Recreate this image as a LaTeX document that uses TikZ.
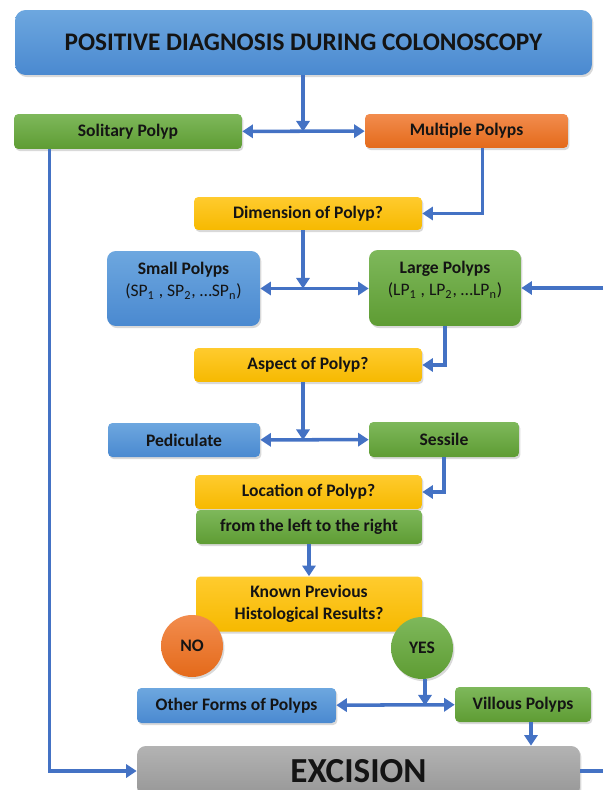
\documentclass[tikz,border=0pt]{standalone}
\usepackage{fontspec}
\setmainfont{Carlito}
\usetikzlibrary{arrows.meta,shadows,calc}

\definecolor{blueT}{HTML}{6DA7DF}
\definecolor{blueB}{HTML}{4A89D0}
\definecolor{greenT}{HTML}{7EB85B}
\definecolor{greenB}{HTML}{5E9C33}
\definecolor{orangeT}{HTML}{F28C4E}
\definecolor{orangeB}{HTML}{E46A1A}
\definecolor{yellowT}{HTML}{FFCB2E}
\definecolor{yellowB}{HTML}{F6B900}
\definecolor{grayT}{HTML}{B3B3B3}
\definecolor{grayB}{HTML}{979797}
\definecolor{linkblue}{HTML}{4472C4}

\begin{document}
\begin{tikzpicture}[x=0.02cm, y=-0.02cm,
		>={Triangle[length=6pt,width=7.5pt]},
		box/.style={rounded corners=2.5pt, inner sep=0pt, align=center, text=black!92,
			font=\fontsize{10}{12.5}\selectfont\bfseries,
			drop shadow={shadow xshift=0.8pt, shadow yshift=-1.2pt, opacity=0.3}},
		bluebox/.style={box, top color=blueT, bottom color=blueB},
		greenbox/.style={box, top color=greenT, bottom color=greenB},
		orangebox/.style={box, top color=orangeT, bottom color=orangeB},
		yellowbox/.style={box, top color=yellowT, bottom color=yellowB},
		graybox/.style={box, top color=grayT, bottom color=grayB},
		answer/.style={circle, minimum size=1.24cm},
		link/.style={draw=linkblue, line width=2pt}
	]

	\useasboundingbox (0,0) rectangle (603,790);

	\node[bluebox, minimum width=11.54cm, minimum height=1.3cm, rounded corners=6pt,
		font=\fontsize{14.4}{16}\selectfont\bfseries] (title) at (303.5,42.5)
		{POSITIVE DIAGNOSIS DURING COLONOSCOPY};

	\node[greenbox, minimum width=4.56cm, minimum height=0.7cm] (solitary) at (128,131.5) {Solitary Polyp};
	\node[orangebox, minimum width=4.06cm, minimum height=0.68cm] (multiple) at (466.5,131) {Multiple Polyps};

	\node[yellowbox, minimum width=4.56cm, minimum height=0.66cm] (dimension) at (308,213.5) {Dimension of Polyp?};

	\node[bluebox, minimum width=3.06cm, minimum height=1.5cm, rounded corners=5pt, text depth=10pt] (small) at (183.5,288.5)
		{Small Polyps\\ \mdseries (SP\textsubscript{1} , SP\textsubscript{2}, \dots SP\textsubscript{n})};
	\node[greenbox, minimum width=3.04cm, minimum height=1.52cm, rounded corners=5pt, text depth=11pt] (large) at (445,288)
		{Large Polyps\\ \mdseries (LP\textsubscript{1} , LP\textsubscript{2}, \dots LP\textsubscript{n})};

	\node[yellowbox, minimum width=4.56cm, minimum height=0.68cm] (aspect) at (308,365) {Aspect of Polyp?};

	\node[bluebox, minimum width=3.04cm, minimum height=0.68cm] (pedic) at (184,440) {Pediculate};
	\node[greenbox, minimum width=3cm, minimum height=0.7cm] (sessile) at (444,439.5) {Sessile};

	\node[yellowbox, minimum width=4.54cm, minimum height=0.68cm] (location) at (308.5,492) {Location of Polyp?};
	\node[greenbox, minimum width=4.52cm, minimum height=0.68cm] (fromlr) at (309,527) {from the left to the right};

	\node[yellowbox, minimum width=4.52cm, minimum height=1.1cm] (known) at (309,604)
		{Known Previous\\ Histological Results?};

	\node[orangebox, answer] (no) at (192,646) {NO};
	\node[greenbox, answer] (yes) at (422,648) {YES};

	\node[bluebox, minimum width=3.98cm, minimum height=0.7cm] (other) at (236.5,705.5) {Other Forms of Polyps};
	\node[greenbox, minimum width=2.72cm, minimum height=0.7cm] (villous) at (523,704.5) {Villous Polyps};

	\node[graybox, minimum width=8.86cm, minimum height=1cm, rounded corners=5pt,
		font=\fontsize{20}{22}\selectfont\bfseries] (excision) at (358.5,771) {EXCISION};

	\coordinate (rightin) at (603,288);
	\coordinate (rightout) at (603,771);

	% connectors
	\draw[link, ->] ($(title.south)+(-0.5,0)$) coordinate (t1) -- (t1 |- solitary.east);
	\draw[link, <->] (solitary) -- (multiple);
	\draw[link, ->] ($(solitary.south west)+(36,0)$) |- (excision.west);
	\draw[link, ->] ($(multiple.south west)+(118,0)$) |- (dimension.east);

	\draw[link, ->] ($(dimension.south)+(-5,0)$) coordinate (d1) -- (d1 |- small.east);
	\draw[link, <->] (small.east) -- (large.west |- small.east);
	\draw[link, ->] (rightin) -- (large.east |- rightin);
	\draw[link, ->] (large.south) |- (aspect.east);

	\draw[link, ->] ($(aspect.south)+(-5,0)$) coordinate (a1) -- (a1 |- pedic.east);
	\draw[link, <->] (pedic) -- (sessile);
	\draw[link, ->] (sessile.south) |- (location.east);

	\draw[link, ->] (fromlr.south) -- (known.north);

	\draw[link, ->] ($(yes.south)+(3,0)$) coordinate (y1) -- (y1 |- other.east);
	\draw[link, <->] (other) -- (villous);
	\draw[link, ->] ($(villous.south)+(8,0)$) coordinate (v1) -- (v1 |- excision.north);
	\draw[link] (excision.east) -- (rightout);

\end{tikzpicture}
\end{document}
